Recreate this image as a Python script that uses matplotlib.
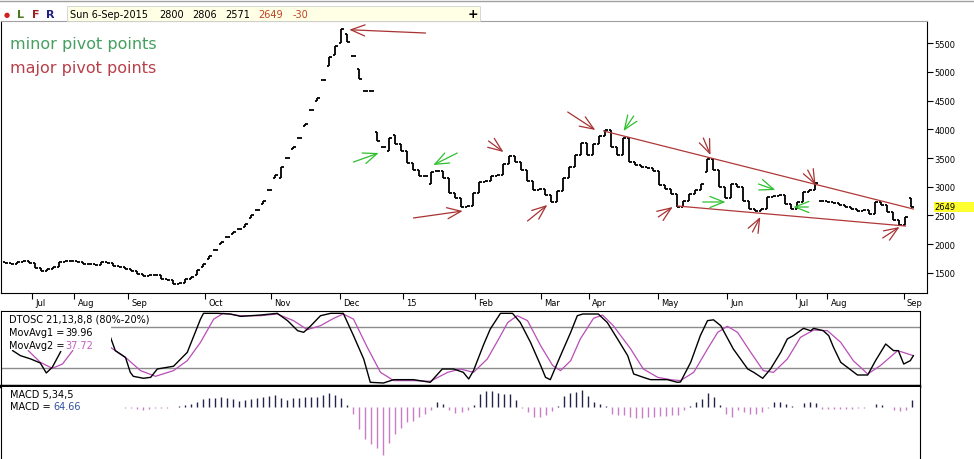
import matplotlib
matplotlib.use("Agg")
import matplotlib.pyplot as plt
from matplotlib.patches import Rectangle
import numpy as np

W, H = 974, 460

# price bars (one bar = one step on the x axis)
opens = [1690, 1670, 1650, 1690, 1700, 1680, 1590, 1540, 1570, 1600,
         1690, 1710, 1700, 1690, 1660, 1650, 1640, 1690, 1680, 1620,
         1600, 1570, 1540, 1480, 1440, 1470, 1460, 1400, 1370, 1300,
         1330, 1390, 1460, 1600, 1740, 1900, 2000, 2130, 2180, 2260,
         2300, 2460, 2600, 2700, 2950, 3150, 3150, 3500, 3650, 3850,
         4050, 4330, 4500, 4850, 5100, 5300, 5500, 5650, 5270, 5050,
         4670, 4670, 3950, 3700, 3620, 3900, 3750, 3620, 3420, 3300,
         3190, 3050, 3270, 3270, 3150, 2900, 2800, 2650, 2660, 2900,
         3090, 3100, 3180, 3200, 3400, 3530, 3430, 3300, 3100, 2950,
         2960, 2850, 2740, 2930, 3150, 3350, 3560, 3760, 3560, 3750,
         3880, 3980, 3700, 3550, 3850, 3430, 3380, 3340, 3330, 3280,
         3030, 2960, 2870, 2650, 2760, 2880, 2950, 3250, 3480, 3290,
         3000, 2800, 3050, 3000, 2750, 2620, 2570, 2620, 2820, 2840,
         2850, 2700, 2620, 2730, 2910, 2950, 2760, 2750, 2740, 2710,
         2680, 2650, 2620, 2570, 2600, 2530, 2730, 2680, 2560, 2420,
         2340, 2800]
closes = [1670, 1650, 1690, 1700, 1680, 1590, 1540, 1570, 1600, 1690,
          1710, 1700, 1690, 1660, 1650, 1640, 1690, 1680, 1620, 1600,
          1570, 1540, 1480, 1440, 1470, 1460, 1400, 1370, 1300, 1330,
          1390, 1430, 1560, 1650, 1790, 1900, 2040, 2130, 2210, 2260,
          2350, 2500, 2600, 2750, 2950, 3200, 3350, 3500, 3700, 3850,
          4100, 4330, 4550, 4850, 5250, 5450, 5740, 5520, 5270, 4880,
          4670, 4670, 3800, 3700, 3850, 3750, 3620, 3420, 3300, 3190,
          3190, 3250, 3270, 3150, 2900, 2800, 2650, 2660, 2900, 3090,
          3100, 3180, 3200, 3400, 3530, 3430, 3300, 3100, 2950, 2960,
          2850, 2740, 2930, 3150, 3350, 3560, 3760, 3560, 3750, 3880,
          3980, 3700, 3550, 3850, 3430, 3380, 3340, 3330, 3280, 3030,
          2960, 2870, 2650, 2760, 2880, 2950, 3050, 3480, 3290, 3000,
          2800, 3050, 3000, 2750, 2620, 2570, 2620, 2820, 2840, 2850,
          2700, 2620, 2730, 2910, 2950, 3060, 2750, 2740, 2710, 2680,
          2650, 2620, 2570, 2600, 2530, 2730, 2680, 2560, 2420, 2340,
          2470, 2649]

# DTOSC lines (x in bar units)
fast_x = [1.2, 2.5, 4.2, 5.8, 6.8, 7.8, 9.2, np.nan,
          17.5, 18.3, 20, 20.8, 21.3, 23, 24.2, 25.3, 28, 30.3, 32.5, 33,
          35.3, 37.5, 39.2, 42.5, 45.3, 47, 48.7, 49.7, 50.8, 52.5, 54.2,
          56.3, 58, 59.7, 60.8, 63, 64.7, 68, 70.8, 72.8, 74.7, 76.3, 77.2,
          78, 79.7, 80.8, 82.5, 84.5, 85.8, 87.5, 89.2, 90, 90.8, 92.5,
          94.2, 95.3, 96.2, 98.8, 100.3, 102, 103.7, 104.7, 106.3, 107.5,
          110.3, 112, 112.5, 114.2, 115.8, 117, 118, 119.2, 121.3, 123.7,
          124.7, 126.2, 127.5, 129.2, 130.3, 131.3, 133, 134.2, 134.7,
          136.3, 137.2, 138, 139.2, 140.3, 142, 143.7, 145, 146.7, 148,
          148.8, 149.7, 150.8, 151.3]
fast_y = [45.9, 38.5, 33.7, 27.8, 13.2, 21.5, 44.4, np.nan,
          65.4, 45.9, 36, 14.1, 8.3, 5.4, 6.8, 19, 23, 43.4, 92, 100.5,
          100.5, 99.5, 96, 98, 100.5, 89.8, 75, 72.7, 81.5, 97, 100.5,
          100.5, 67.8, 33.7, -0.5, -1.5, 3.4, 3.4, -0.5, 19, 19, 14.1, 4.4,
          16.6, 55, 77.6, 100.5, 100.5, 87, 58, 24, 6.8, 3.4, 38.5,
          72.7, 97, 99.5, 99.5, 87, 63, 38.5, 11.7, 6.8, 3.4,
          3.4, -0.5, 0, 28.8, 67.8, 89.8, 91, 82.4, 48.3, 19,
          14.1, 5.4, 19, 43.4, 63, 67.8, 78.5, 75, 78.5,
          75, 67.8, 50.7, 28.8, 21.5, 10.2, 10.2, 31.2, 55.6, 45.9,
          45.9, 26.3, 31.2, 38.5]
slow_x = [3.8, 5.8, 7.8, 9.5, 11.2, np.nan,
          17.5, 20.3, 22.5, 25, 28, 30.3, 32.5, 34.7, 36.3, 39.2, 42.5,
          45.3, 48, 50.3, 52.5, 54.7, 56.3, 58, 60.3, 62.5, 64.7, 68,
          70.8, 73.7, 75.8, 78, 80.3, 82.2, 83.7, 85.3, 87, 89.2, 91.2,
          92.5, 94.2, 95.8, 98, 99.5, 101.3, 104.2, 106.3, 108.7, 110.8,
          112.5, 114.7, 117, 118.7, 120.3, 122, 124.2, 126.3, 128, 130.3,
          132.5, 134.7, 137, 139.2, 141.3, 143.7, 145.8, 148.7, 151.3]
slow_y = [45.9, 28.8, 20, 26.3, 45.9, np.nan,
          50.7, 33.7, 16.6, 8.3, 16.6, 31.2, 58, 92, 100.5, 97, 97,
          99.5, 89.8, 76.6, 82.4, 93.2, 99.5, 92, 50.7, 14.1, 2, 2,
          1, 14.1, 19, 14.1, 33.7, 63, 87, 97, 89.8, 53, 24,
          16.6, 31.2, 63, 93.2, 98, 82.4, 48.3, 19, 6.8, 3.4,
          2, 14.1, 48.3, 72.7, 81.5, 72.7, 43.4, 16.6, 14.1, 33.7,
          65.4, 76.1, 75, 58, 31.2, 11.7, 23.9, 45.9, 38.5]

# MACD histogram, one value per bar
macd = [0, 0, 0, 0, 0, 0, 0, 0, 0, 0,
        0, 0, 0, 0, 0, 2, 2, 2, 2, -3,
        -5, -8, -15, -25, -20, -10, -8, -5, -3, 5,
        15, 30, 45, 70, 80, 85, 90, 85, 70, 55,
        60, 70, 80, 95, 105, 110, 80, 65, 80, 85,
        90, 90, 95, 115, 125, 115, 80, 15, -60, -200,
        -290, -340, -380, -440, -330, -250, -190, -140, -125, -90,
        -60, -25, 45, 30, -30, -55, -45, -30, 15, 120,
        150, 150, 130, 120, 120, 60, -10, -50, -90, -95,
        -70, -40, 10, 100, 125, 140, 160, 100, 50, 30,
        10, -60, -70, -70, -90, -105, -100, -95, -90, -85,
        -80, -75, -70, -30, 10, 45, 70, 130, 90, 20,
        -60, -90, -30, -45, -60, -60, -45, -10, 45, 45,
        30, 5, 3, 35, 45, 40, -15, -20, -15, -20,
        -15, -20, -10, -5, 3, 30, 15, 3, -25, -40,
        -30, 65]

month_pos = [4.5, 11.5, 20.5, 33.3, 44.3, 55.8, 66.2, 78.2, 89.3, 97.2,
             108.7, 120.3, 131.7, 137, 149.7]
month_labels = ["Jul", "Aug", "Sep", "Oct", "Nov", "Dec", "15", "Feb", "Mar",
                "Apr", "May", "Jun", "Jul", "Aug", "Sep"]
price_ticks = [1500, 2000, 2500, 3000, 3500, 4000, 4500, 5000, 5500]

# pivot arrows: (tail x, tail y, tip x, tip y)
major_arrows = [(70.0, 5674, 57.3, 5731), (68.0, 2457, 76.2, 2578),
                (80.5, 3796, 83.0, 3604), (87.0, 2404, 90.3, 2683),
                (93.7, 4300, 98.3, 3987), (108.8, 2474, 111.2, 2648),
                (116.3, 3848, 117.5, 3552), (124.5, 2213, 125.8, 2474),
                (133.7, 3291, 135.0, 3030), (146.2, 2109, 149.0, 2300)]
minor_arrows = [(58.0, 3430, 62.2, 3587), (75.3, 3587, 71.3, 3378),
                (104.7, 4230, 103.0, 3970), (116.2, 2735, 120.0, 2735),
                (125.5, 3048, 128.3, 2944), (133.8, 2648, 131.3, 2648)]
trend_upper = [(99.7, 3970), (151.3, 2613)]
trend_lower = [(112.0, 2665), (150.0, 2317)]


def fx(px):
    return px / W


def fy(py):
    return 1 - py / H


fig = plt.figure(figsize=(W / 100, H / 100), dpi=100)
fig.patch.set_facecolor("white")

ax = fig.add_axes([fx(0.5), fy(294), fx(926), (294 - 22) / H])
ax_o = fig.add_axes([fx(0.5), fy(387), fx(919), (387 - 312) / H])
ax_m = fig.add_axes([fx(0.5), 0, fx(919), (460 - 388) / H])

# --- price bars
n = len(closes)
x = np.arange(n)
lo = np.minimum(opens, closes)
hi = np.maximum(opens, closes)
ax.vlines(x, lo, hi, color="black", lw=1.3)
ax.hlines(opens, x - 0.4, x, color="black", lw=1.3)
ax.hlines(closes, x, x + 0.4, color="black", lw=1.3)

for (x0, y0), (x1, y1) in [trend_upper, trend_lower]:
    ax.plot([x0, x1], [y0, y1], color="#b03838", lw=0.9)

for arrows, col in [(major_arrows, "#a83232"), (minor_arrows, "#2ec02e")]:
    for tx, ty, hx, hy in arrows:
        ax.annotate("", xy=(hx, hy), xytext=(tx, ty),
                    arrowprops=dict(arrowstyle="->,head_length=1.0,head_width=0.4",
                                    color=col, lw=0.9, shrinkA=0, shrinkB=0,
                                    mutation_scale=10))

ax.text(10 / 926, 1 - (45 - 22) / 272, "minor pivot points", transform=ax.transAxes,
        color="#45a060", fontsize=11.5, va="center")
ax.text(10 / 926, 1 - (68 - 22) / 272, "major pivot points", transform=ax.transAxes,
        color="#b8404a", fontsize=11.5, va="center")

ax.set_xlim(-0.83, 153.5)
ax.set_ylim(1152, 5883)
ax.set_yticks(price_ticks)
ax.tick_params(axis="y", left=False, right=True, labelleft=False, labelright=True,
               direction="out", length=4, labelsize=6, pad=1.5)
ax.set_xticks(month_pos)
ax.tick_params(axis="x", direction="out", length=4, labelbottom=False)
for p, lab in zip(month_pos, month_labels):
    ax.text(p + 0.5, -0.034, lab, transform=ax.get_xaxis_transform(),
            fontsize=6, ha="left", va="center", clip_on=False)
for s in ["left", "right", "bottom"]:
    ax.spines[s].set_color("black")
ax.spines["top"].set_color("#a0a0a0")

# last price marker
ax.add_patch(Rectangle((1.008, 2649 - 90), 0.06, 180, transform=ax.get_yaxis_transform(),
                       facecolor="#ffff30", edgecolor="none", clip_on=False, zorder=10))
ax.text(1.009, 2649, "2649", transform=ax.get_yaxis_transform(), fontsize=6,
        va="center", ha="left", zorder=11, clip_on=False)

# --- DTOSC
ax_o.axhline(80, color="#8c8c8c", lw=1)
ax_o.axhline(20, color="#8c8c8c", lw=1)
ax_o.plot(slow_x, slow_y, color="#b84db8", lw=0.9)
ax_o.plot(fast_x, fast_y, color="black", lw=1.0)
ax_o.add_patch(Rectangle((0.002, 0.48), 0.118, 0.51, transform=ax_o.transAxes,
                         facecolor="white", edgecolor="none", zorder=5))
ax_o.text(8 / 919, 1 - 8 / 75, "DTOSC 21,13,8,8 (80%-20%)", transform=ax_o.transAxes,
          fontsize=7, va="center", zorder=6)
ax_o.text(8 / 919, 1 - 21 / 75, "MovAvg1 =", transform=ax_o.transAxes,
          fontsize=7, va="center", zorder=6)
ax_o.text(65 / 919, 1 - 21 / 75, "39.96", transform=ax_o.transAxes,
          fontsize=7, va="center", zorder=6)
ax_o.text(8 / 919, 1 - 34 / 75, "MovAvg2 =", transform=ax_o.transAxes,
          fontsize=7, va="center", zorder=6)
ax_o.text(65 / 919, 1 - 34 / 75, "37.72", transform=ax_o.transAxes, color="#c060c0",
          fontsize=7, va="center", zorder=6)
ax_o.set_xlim(-0.83, 152.33)
ax_o.set_ylim(-5.9, 103.9)
ax_o.set_xticks([])
ax_o.set_yticks([])
ax_o.spines["bottom"].set_linewidth(2.5)

# --- MACD
macd = np.array(macd)
cols = np.where(macd >= 0, "#22224a", "#c77dc7")
ax_m.vlines(x, 0, macd, colors=cols, lw=1.0)
ax_m.text(9 / 919, 1 - 7 / 72, "MACD 5,34,5", transform=ax_m.transAxes, fontsize=7, va="center")
ax_m.text(9 / 919, 1 - 19 / 72, "MACD =", transform=ax_m.transAxes, fontsize=7, va="center")
ax_m.text(53 / 919, 1 - 19 / 72, "64.66", transform=ax_m.transAxes, fontsize=7,
          va="center", color="#3050a0")
ax_m.set_xlim(-0.83, 152.33)
ax_m.set_ylim(-478, 184)
ax_m.set_xticks([])
ax_m.set_yticks([])
ax_m.spines["top"].set_visible(False)
ax_m.spines["bottom"].set_visible(False)

# --- header strip
fig.add_artist(plt.Line2D([0, 1], [fy(1.5), fy(1.5)], color="#a0a0a0", lw=1))
fig.add_artist(Rectangle((fx(67), fy(22)), fx(480 - 67), 15 / H, facecolor="#ffffe6",
                         edgecolor="#d0d0d0", lw=0.6))
fig.text(fx(4), fy(14.5), "●", color="#d02020", fontsize=5, va="center")
fig.text(fx(17), fy(14.5), "L", color="#4a7a20", fontsize=8, fontweight="bold", va="center")
fig.text(fx(32), fy(14.5), "F", color="#a02020", fontsize=8, fontweight="bold", va="center")
fig.text(fx(46), fy(14.5), "R", color="#202080", fontsize=8, fontweight="bold", va="center")
for px, s, c in [(70, "Sun 6-Sep-2015", "black"), (159, "2800", "black"),
                 (192, "2806", "black"), (225, "2571", "black"),
                 (258, "2649", "#c04020"), (293, "-30", "#c04020")]:
    fig.text(fx(px), fy(14.5), s, color=c, fontsize=7, va="center")
fig.text(fx(468), fy(14.5), "+", color="black", fontsize=9, fontweight="bold", va="center")

fig.savefig("out.png", dpi=100)
